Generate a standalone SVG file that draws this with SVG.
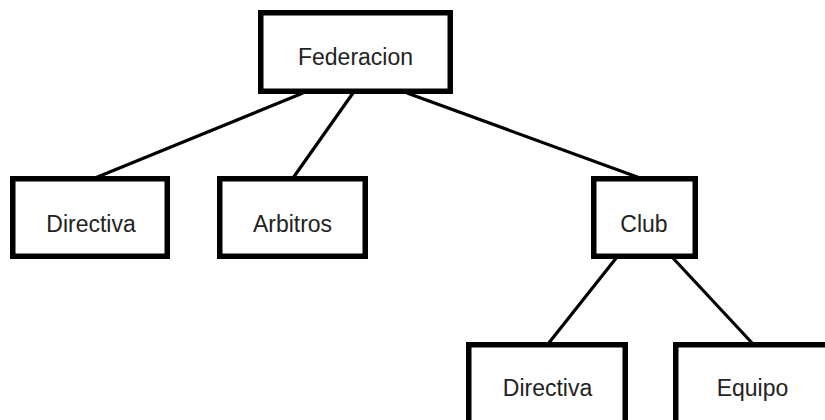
<svg xmlns="http://www.w3.org/2000/svg" width="825" height="420" viewBox="0 0 825 420">
  <style>
    .box { fill: #ffffff; stroke: #000000; stroke-width: 5.5; }
    .edge { stroke: #000000; stroke-width: 3.2; fill: none; }
    .lbl { font-family: "Liberation Sans", Arial, sans-serif; font-size: 23px; fill: #222222; text-anchor: middle; }
  </style>
  <rect width="825" height="420" fill="#ffffff"/>
  <g id="connectors">
    <line class="edge" x1="303" y1="93" x2="95" y2="178"/>
    <line class="edge" x1="353" y1="93" x2="293" y2="178"/>
    <line class="edge" x1="407" y1="93" x2="640" y2="178"/>
    <line class="edge" x1="617" y1="257" x2="548" y2="344"/>
    <line class="edge" x1="672" y1="257" x2="753" y2="344"/>
  </g>
  <g id="federacion">
    <rect class="box" x="260.75" y="12.75" width="189.5" height="78.5"/>
    <text class="lbl" transform="translate(355.5,65) scale(1,1.08)">Federacion</text>
  </g>
  <g id="directiva1">
    <rect class="box" x="12.75" y="178.75" width="154.5" height="77.5"/>
    <text class="lbl" transform="translate(91,232) scale(1,1.08)">Directiva</text>
  </g>
  <g id="arbitros">
    <rect class="box" x="219.75" y="178.75" width="145.5" height="77.5"/>
    <text class="lbl" transform="translate(292.5,232) scale(1,1.08)">Arbitros</text>
  </g>
  <g id="club">
    <rect class="box" x="593.75" y="178.75" width="101.5" height="77.5"/>
    <text class="lbl" transform="translate(644,232) scale(1,1.08)">Club</text>
  </g>
  <g id="directiva2">
    <rect class="box" x="468.75" y="344.75" width="156.5" height="90"/>
    <text class="lbl" transform="translate(547.5,396) scale(1,1.08)">Directiva</text>
  </g>
  <g id="equipo">
    <rect class="box" x="675.75" y="344.75" width="154" height="90"/>
    <text class="lbl" transform="translate(752.5,396) scale(1,1.08)">Equipo</text>
  </g>
</svg>
